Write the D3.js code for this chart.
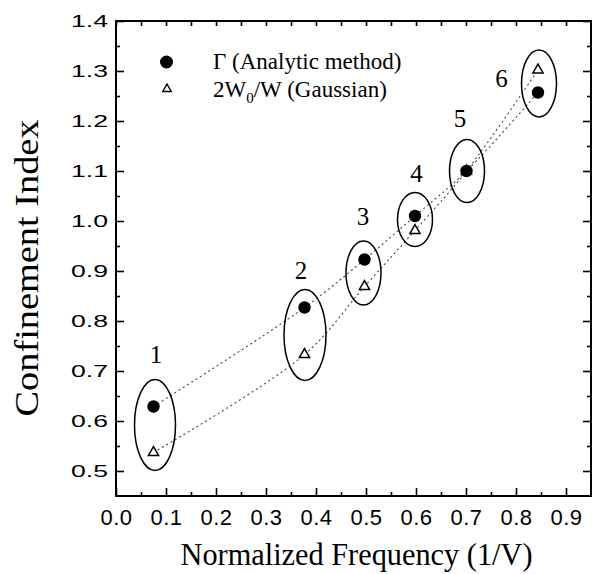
<!DOCTYPE html>
<html>
<head>
<meta charset="utf-8">
<script src="https://cdn.jsdelivr.net/npm/d3@7"></script>
<style>
  body { margin: 0; background: #fff; }
  svg { display: block; }
</style>
</head>
<body>
<svg width="600" height="574"></svg>
<script>
// mode numbers and values
var modes = ["1", "2", "3", "4", "5", "6"];
var freq = [0.075, 0.377, 0.497, 0.598, 0.701, 0.844];
var gammaAnalytic = [0.629, 0.827, 0.923, 1.010, 1.100, 1.257];
var gaussianRatio = [0.537, 0.733, 0.869, 0.981, 1.100, 1.302];

// hand drawn ellipses round each mode (data units)
var ellipseCx = [0.078, 0.378, 0.495, 0.598, 0.702, 0.846];
var ellipseCy = [0.592, 0.772, 0.896, 1.003, 1.100, 1.275];
var ellipseRx = [0.041, 0.042, 0.035, 0.035, 0.035, 0.035];
var ellipseRy = [0.091, 0.091, 0.064, 0.054, 0.063, 0.067];
var labelX = [0.080, 0.370, 0.494, 0.601, 0.688, 0.771];
var labelY = [0.716, 0.884, 0.992, 1.078, 1.188, 1.268];

var xTicks = [0.0, 0.1, 0.2, 0.3, 0.4, 0.5, 0.6, 0.7, 0.8, 0.9];
var xMinor = [0.05, 0.15, 0.25, 0.35, 0.45, 0.55, 0.65, 0.75, 0.85];
var yTicks = [0.5, 0.6, 0.7, 0.8, 0.9, 1.0, 1.1, 1.2, 1.3, 1.4];
var yMinor = [0.55, 0.65, 0.75, 0.85, 0.95, 1.05, 1.15, 1.25, 1.35];

var svg = d3.select("svg");
var plotL = 116, plotR = 591, plotT = 21, plotB = 496;

var x = d3.scaleLinear().domain([0, 0.95]).range([plotL, plotR]);
var y = d3.scaleLinear().domain([0.45, 1.4]).range([plotB, plotT]);

var serif = "'Liberation Serif', 'Times New Roman', serif";
var sans = "'Liberation Sans', Arial, sans-serif";

// axes, ticks pointing inward
function styleAxis(g) {
    g.select(".domain").remove();
    g.selectAll(".tick line").attr("stroke", "#000").attr("stroke-width", 1.6);
}

svg.append("g")
    .attr("transform", "translate(0," + plotB + ")")
    .call(d3.axisBottom(x).tickValues(xTicks).tickSize(-8).tickPadding(13).tickFormat(d3.format(".1f")))
    .call(styleAxis)
    .call(function(g) {
        g.selectAll("text").attr("font-family", sans).attr("font-size", 22).attr("fill", "#000")
            .attr("letter-spacing", 0.5);
    });
svg.append("g")
    .attr("transform", "translate(0," + plotB + ")")
    .call(d3.axisBottom(x).tickValues(xMinor).tickSize(-4).tickFormat(""))
    .call(styleAxis);

svg.append("g")
    .attr("transform", "translate(0," + plotT + ")")
    .call(d3.axisTop(x).tickValues(xTicks.concat(xMinor)).tickSize(-5).tickFormat(""))
    .call(styleAxis);

svg.append("g")
    .attr("transform", "translate(" + plotL + ",0)")
    .call(d3.axisLeft(y).tickValues(yTicks).tickSize(-8).tickPadding(8).tickFormat(d3.format(".1f")))
    .call(styleAxis)
    .call(function(g) {
        g.selectAll("text")
            .attr("font-family", sans).attr("font-size", 17).attr("fill", "#000")
            .attr("textLength", 37).attr("lengthAdjust", "spacingAndGlyphs");
    });
svg.append("g")
    .attr("transform", "translate(" + plotL + ",0)")
    .call(d3.axisLeft(y).tickValues(yMinor).tickSize(-4).tickFormat(""))
    .call(styleAxis);

svg.append("g")
    .attr("transform", "translate(" + plotR + ",0)")
    .call(d3.axisRight(y).tickValues(yTicks).tickSize(-8).tickFormat(""))
    .call(styleAxis);
svg.append("g")
    .attr("transform", "translate(" + plotR + ",0)")
    .call(d3.axisRight(y).tickValues(yMinor).tickSize(-4).tickFormat(""))
    .call(styleAxis);

// frame
svg.append("rect")
    .attr("x", plotL).attr("y", plotT)
    .attr("width", plotR - plotL).attr("height", plotB - plotT)
    .attr("fill", "none").attr("stroke", "#000").attr("stroke-width", 2);

// axis titles
svg.append("text")
    .attr("x", (plotL + plotR) / 2 + 3).attr("y", 565)
    .attr("text-anchor", "middle")
    .attr("font-family", serif).attr("font-size", 32)
    .attr("textLength", 352).attr("lengthAdjust", "spacingAndGlyphs")
    .text("Normalized Frequency (1/V)");

svg.append("text")
    .attr("transform", "translate(38,268) rotate(-90)")
    .attr("text-anchor", "middle")
    .attr("font-family", serif).attr("font-size", 33)
    .attr("textLength", 297).attr("lengthAdjust", "spacingAndGlyphs")
    .text("Confinement Index");

// dotted guide curves through each series
var idx = d3.range(freq.length);
var line = d3.line().curve(d3.curveCatmullRom.alpha(0.5));

[gammaAnalytic, gaussianRatio].forEach(function(vals) {
    svg.append("path")
        .attr("d", line(idx.map(function(i) { return [x(freq[i]), y(vals[i])]; })))
        .attr("fill", "none")
        .attr("stroke", "#444")
        .attr("stroke-width", 1.1)
        .attr("stroke-dasharray", "2,3");
});

// ellipses
svg.append("g").selectAll("ellipse")
    .data(idx)
    .enter().append("ellipse")
    .attr("cx", function(i) { return x(ellipseCx[i]); })
    .attr("cy", function(i) { return y(ellipseCy[i]); })
    .attr("rx", function(i) { return x(ellipseRx[i]) - x(0); })
    .attr("ry", function(i) { return y(0.45) - y(0.45 + ellipseRy[i]); })
    .attr("fill", "none")
    .attr("stroke", "#000")
    .attr("stroke-width", 1.5);

// mode numbers
svg.append("g").selectAll("text")
    .data(idx)
    .enter().append("text")
    .attr("x", function(i) { return x(labelX[i]); })
    .attr("y", function(i) { return y(labelY[i]); })
    .attr("text-anchor", "middle")
    .attr("font-family", serif).attr("font-size", 25)
    .text(function(i) { return modes[i]; });

// points
var tri = d3.symbol().type(d3.symbolTriangle).size(45);
svg.append("g").selectAll("path")
    .data(idx)
    .enter().append("path")
    .attr("d", tri)
    .attr("transform", function(i) { return "translate(" + x(freq[i]) + "," + y(gaussianRatio[i]) + ")"; })
    .attr("fill", "#fff")
    .attr("stroke", "#000")
    .attr("stroke-width", 1.5);

svg.append("g").selectAll("circle")
    .data(idx)
    .enter().append("circle")
    .attr("cx", function(i) { return x(freq[i]); })
    .attr("cy", function(i) { return y(gammaAnalytic[i]); })
    .attr("r", 6.2)
    .attr("fill", "#000");

// legend
svg.append("circle")
    .attr("cx", 166.5).attr("cy", 62).attr("r", 6.5).attr("fill", "#000");
svg.append("path")
    .attr("d", d3.symbol().type(d3.symbolTriangle).size(32))
    .attr("transform", "translate(167,89)")
    .attr("fill", "#fff").attr("stroke", "#000").attr("stroke-width", 1.4);

svg.append("text")
    .attr("x", 213).attr("y", 69)
    .attr("font-family", serif).attr("font-size", 23)
    .text("\u0393 (Analytic method)");

var t2 = svg.append("text")
    .attr("x", 213).attr("y", 97)
    .attr("font-family", serif).attr("font-size", 23);
t2.append("tspan").text("2W");
t2.append("tspan").attr("dy", 6).attr("font-size", 15).text("0");
t2.append("tspan").attr("dy", -6).text("/W (Gaussian)");
</script>
</body>
</html>
